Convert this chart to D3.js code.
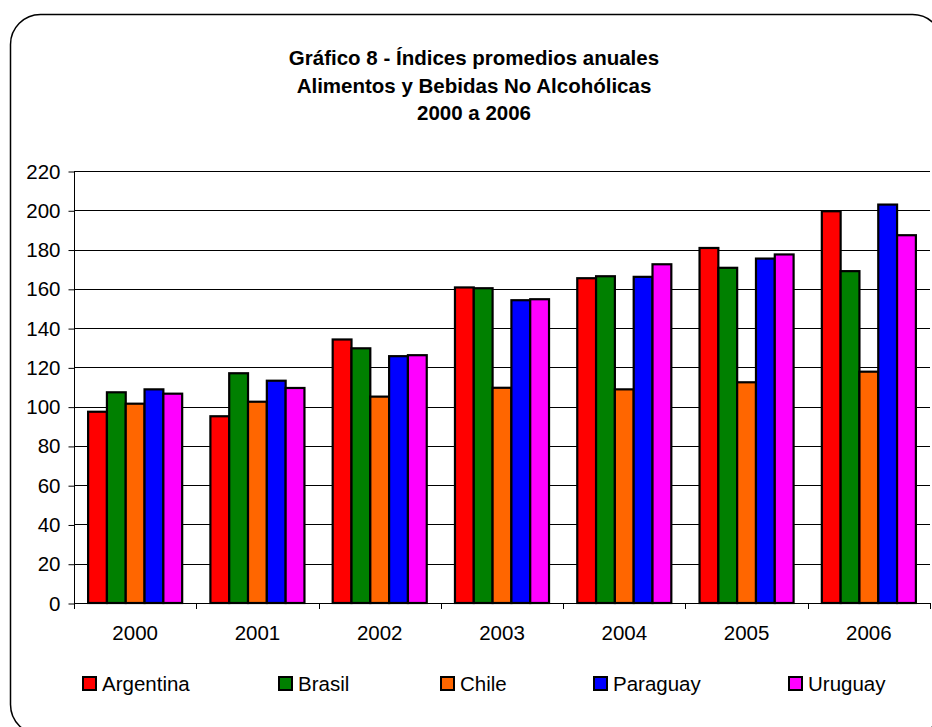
<!DOCTYPE html>
<html>
<head>
<meta charset="utf-8">
<script src="https://cdn.jsdelivr.net/npm/d3@7"></script>
<style>
  html, body { margin: 0; padding: 0; background: #fff; }
  svg { display: block; font-family: "Liberation Sans", Arial, sans-serif; }
</style>
</head>
<body>
<svg id="chart" width="932" height="727"></svg>
<script>
const titleLines = ["Gráfico 8 - Índices promedios anuales", "Alimentos y Bebidas No Alcohólicas", "2000 a 2006"];
const years = ["2000", "2001", "2002", "2003", "2004", "2005", "2006"];
const seriesNames = ["Argentina", "Brasil", "Chile", "Paraguay", "Uruguay"];
const seriesColors = ["#FF0000", "#008000", "#FF6600", "#0000FF", "#FF00FF"];
const argentina = [97.4, 95.1, 134.2, 160.7, 165.4, 180.8, 199.5];
const brasil    = [107.3, 117.0, 129.7, 160.3, 166.4, 170.7, 169.0];
const chile     = [101.5, 102.5, 105.1, 109.6, 108.8, 112.4, 117.8];
const paraguay  = [108.8, 113.2, 125.7, 154.2, 166.1, 175.4, 202.9];
const uruguay   = [106.6, 109.5, 126.2, 154.7, 172.5, 177.5, 187.3];
const yTicks = [0, 20, 40, 60, 80, 100, 120, 140, 160, 180, 200, 220];

const seriesValues = [argentina, brasil, chile, paraguay, uruguay];

const svg = d3.select("#chart");

// outer rounded frame
svg.append("rect")
  .attr("x", 10.5).attr("y", 14.5)
  .attr("width", 932).attr("height", 720)
  .attr("rx", 30).attr("ry", 30)
  .attr("fill", "#fff").attr("stroke", "#000").attr("stroke-width", 1.5);

// title
const title = svg.append("text")
  .attr("text-anchor", "middle")
  .attr("font-weight", "bold")
  .attr("font-size", 20.5)
  .attr("fill", "#000");
titleLines.forEach((t, i) => {
  title.append("tspan").attr("x", 474).attr("y", 65 + i * 27.5).text(t);
});

const pLeft = 74, pRight = 930, pTop = 171, pBottom = 603;

const x = d3.scaleBand().domain(years).range([pLeft, pRight]).paddingInner(0).paddingOuter(0);
const y = d3.scaleLinear().domain([0, 220]).range([pBottom, pTop]);
const barW = x.bandwidth() / 6.5;
const xs = d3.scaleBand().domain(seriesNames).range([barW * 0.75, barW * 5.75]).padding(0);

// gridlines
svg.append("g").selectAll("line").data(yTicks.filter(d => d > 0)).join("line")
  .attr("x1", pLeft).attr("x2", pRight)
  .attr("y1", d => Math.round(y(d)) + 0.5).attr("y2", d => Math.round(y(d)) + 0.5)
  .attr("stroke", "#000").attr("stroke-width", 1);

// y axis
const yAxis = svg.append("g")
  .attr("transform", `translate(${pLeft + 0.5},0.5)`)
  .call(d3.axisLeft(y).tickValues(yTicks).tickSize(6).tickPadding(8).tickFormat(d3.format("d")));
yAxis.select(".domain").attr("stroke", "#000").attr("d", `M0,${pTop}V${pBottom}`);
yAxis.selectAll(".tick line").attr("stroke", "#000");
yAxis.selectAll(".tick text").attr("font-size", 20.5).attr("fill", "#000")
  .attr("font-family", '"Liberation Sans", Arial, sans-serif');

// bars
const groups = svg.append("g").selectAll("g").data(seriesNames).join("g")
  .attr("fill", (d, i) => seriesColors[i]);
groups.selectAll("rect").data((s, si) => seriesValues[si].map((v, yi) => ({ s, v, year: years[yi] })))
  .join("rect")
  .attr("x", d => x(d.year) + xs(d.s))
  .attr("width", xs.bandwidth())
  .attr("y", d => y(d.v))
  .attr("height", d => y(0) - y(d.v))
  .attr("stroke", "#000").attr("stroke-width", 2.2);

// x axis
const xAxis = svg.append("g")
  .attr("transform", `translate(0,${pBottom + 0.5})`)
  .call(d3.axisBottom(x).tickSize(0).tickPadding(22));
xAxis.select(".domain").attr("stroke", "#000").attr("d", `M${pLeft},0H${pRight}`);
xAxis.selectAll(".tick text").attr("font-size", 20.5).attr("fill", "#000")
  .attr("font-family", '"Liberation Sans", Arial, sans-serif');
// category boundary ticks
svg.append("g").selectAll("line").data(years.concat(["end"])).join("line")
  .attr("x1", (d, i) => Math.round(pLeft + i * x.step()) + 0.5)
  .attr("x2", (d, i) => Math.round(pLeft + i * x.step()) + 0.5)
  .attr("y1", pBottom).attr("y2", pBottom + 6)
  .attr("stroke", "#000");

// legend
const legendX = [82, 278, 440, 593, 788];
const legend = svg.append("g").selectAll("g").data(seriesNames).join("g")
  .attr("transform", (d, i) => `translate(${legendX[i]},676)`);
legend.append("rect")
  .attr("x", 1).attr("y", 1).attr("width", 13).attr("height", 13)
  .attr("fill", (d, i) => seriesColors[i])
  .attr("stroke", "#000").attr("stroke-width", 2);
legend.append("text")
  .attr("x", 20).attr("y", 14.5)
  .attr("font-size", 20.5).attr("fill", "#000")
  .text(d => d);
</script>
</body>
</html>
